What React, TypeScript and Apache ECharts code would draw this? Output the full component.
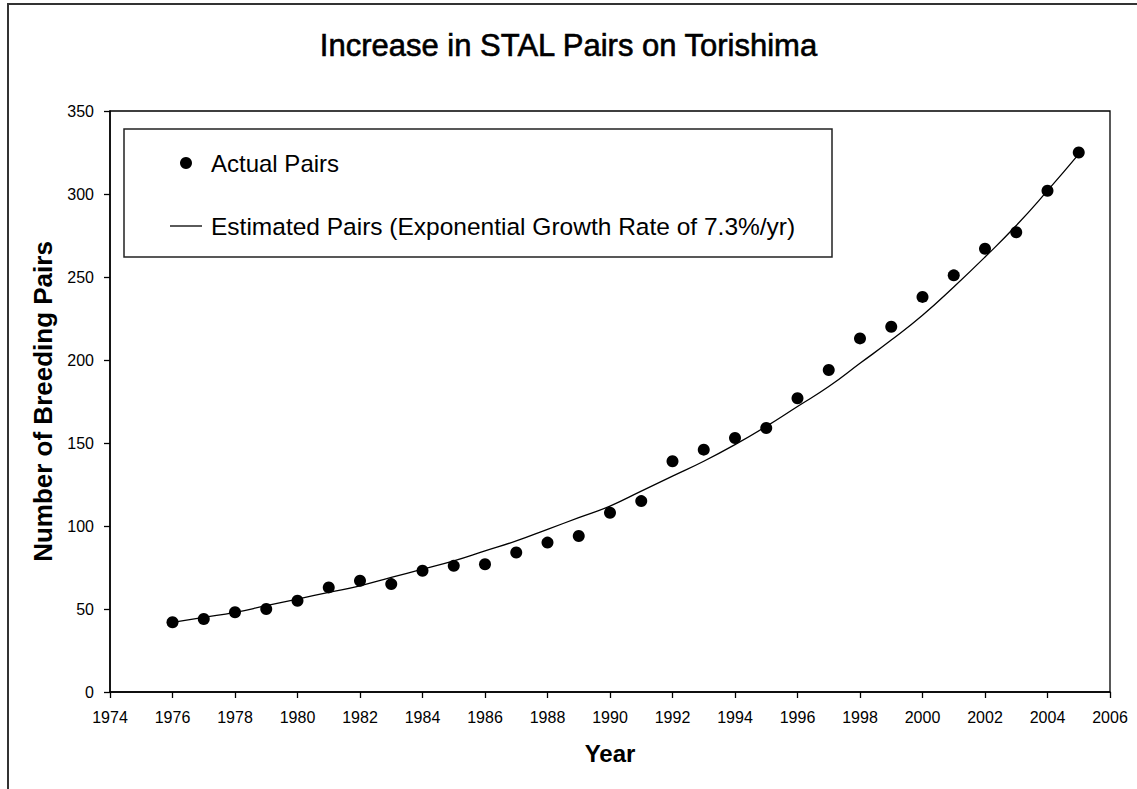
import React, { useEffect, useRef } from "react";
import * as echarts from "echarts";

const titleText = "Increase in STAL Pairs on Torishima";
const xAxisTitle = "Year";
const yAxisTitle = "Number of Breeding Pairs";
const actualLabel = "Actual Pairs";
const estimatedLabel = "Estimated Pairs (Exponential Growth Rate of 7.3%/yr)";

const years = [
  1976, 1977, 1978, 1979, 1980, 1981, 1982, 1983, 1984, 1985,
  1986, 1987, 1988, 1989, 1990, 1991, 1992, 1993, 1994, 1995,
  1996, 1997, 1998, 1999, 2000, 2001, 2002, 2003, 2004, 2005,
];

const actualPairs = [
  42, 44, 48, 50, 55, 63, 67, 65, 73, 76,
  77, 84, 90, 94, 108, 115, 139, 146, 153, 159,
  177, 194, 213, 220, 238, 251, 267, 277, 302, 325,
];

const estimatedPairs = [
  42, 45, 48, 52, 56, 60, 64, 69, 74, 79,
  85, 91, 98, 105, 112, 121, 130, 139, 149, 160,
  172, 184, 198, 212, 227, 244, 262, 281, 302, 324,
];

const FONT = "'Liberation Sans', Arial, sans-serif";

export default function App() {
  const ref = useRef<HTMLDivElement>(null);

  useEffect(() => {
    document.body.style.margin = "0";
    if (!ref.current) return;
    const chart = echarts.init(ref.current, null, { renderer: "svg" });

    const actualData = years.map((y, i) => [y, actualPairs[i]]);
    const estData = years.map((y, i) => [y, estimatedPairs[i]]);

    chart.setOption({
      animation: false,
      backgroundColor: "#fff",
      textStyle: { fontFamily: FONT },
      title: {
        text: titleText,
        left: "center",
        top: 25,
        textStyle: {
          fontFamily: FONT,
          fontSize: 31,
          fontWeight: "normal",
          color: "#000",
          textBorderColor: "#000",
          textBorderWidth: 0.6,
        },
      },
      grid: {
        left: 110,
        top: 111,
        right: 27,
        bottom: 97,
        show: true,
        borderColor: "#000",
        borderWidth: 1.3,
        backgroundColor: "transparent",
      },
      xAxis: {
        type: "value",
        min: 1974,
        max: 2006,
        interval: 2,
        name: xAxisTitle,
        nameLocation: "middle",
        nameGap: 49,
        nameTextStyle: {
          fontFamily: FONT,
          fontSize: 24,
          fontWeight: "bold",
          color: "#000",
        },
        axisLine: { show: true, lineStyle: { color: "#000", width: 1.5 } },
        axisTick: { show: true, length: 6, lineStyle: { color: "#000", width: 1.3 } },
        splitLine: { show: false },
        axisLabel: {
          fontFamily: FONT,
          fontSize: 16,
          color: "#000",
          margin: 17,
          formatter: (v: number) => String(v),
        },
      },
      yAxis: {
        type: "value",
        min: 0,
        max: 350,
        interval: 50,
        name: yAxisTitle,
        nameLocation: "middle",
        nameGap: 54,
        nameTextStyle: {
          fontFamily: FONT,
          fontSize: 26,
          fontWeight: "bold",
          color: "#000",
        },
        axisLine: { show: true, lineStyle: { color: "#000", width: 1.5 } },
        axisTick: { show: true, length: 6, lineStyle: { color: "#000", width: 1.3 } },
        splitLine: { show: false },
        axisLabel: {
          fontFamily: FONT,
          fontSize: 16,
          color: "#000",
          margin: 16,
        },
      },
      series: [
        {
          name: estimatedLabel,
          type: "line",
          data: estData,
          smooth: true,
          symbol: "none",
          lineStyle: { color: "#000", width: 1.3 },
          z: 2,
        },
        {
          name: actualLabel,
          type: "scatter",
          data: actualData,
          symbol: "circle",
          symbolSize: 12,
          itemStyle: { color: "#000", opacity: 1 },
          z: 3,
        },
      ],
      graphic: [
        {
          type: "rect",
          shape: { x: 8, y: 4, width: 1200, height: 900 },
          style: { fill: "transparent", stroke: "#333", lineWidth: 2 },
          silent: true,
          z: 0,
        },
        {
          type: "rect",
          shape: { x: 124, y: 129, width: 708, height: 128 },
          style: { fill: "#fff", stroke: "#222", lineWidth: 1.5 },
          z: 10,
        },
        {
          type: "circle",
          shape: { cx: 186, cy: 163, r: 6 },
          style: { fill: "#000" },
          z: 11,
        },
        {
          type: "text",
          x: 211,
          y: 163,
          style: {
            text: actualLabel,
            fontFamily: FONT,
            fontSize: 24,
            fill: "#000",
            verticalAlign: "middle",
            align: "left",
          },
          z: 11,
        },
        {
          type: "line",
          shape: { x1: 170, y1: 226, x2: 202, y2: 226 },
          style: { stroke: "#000", lineWidth: 1.3 },
          z: 11,
        },
        {
          type: "text",
          x: 211,
          y: 226,
          style: {
            text: estimatedLabel,
            fontFamily: FONT,
            fontSize: 24.5,
            fill: "#000",
            verticalAlign: "middle",
            align: "left",
          },
          z: 11,
        },
      ],
    });

    return () => {
      chart.dispose();
    };
  }, []);

  return <div ref={ref} style={{ width: 1137, height: 789 }} />;
}
